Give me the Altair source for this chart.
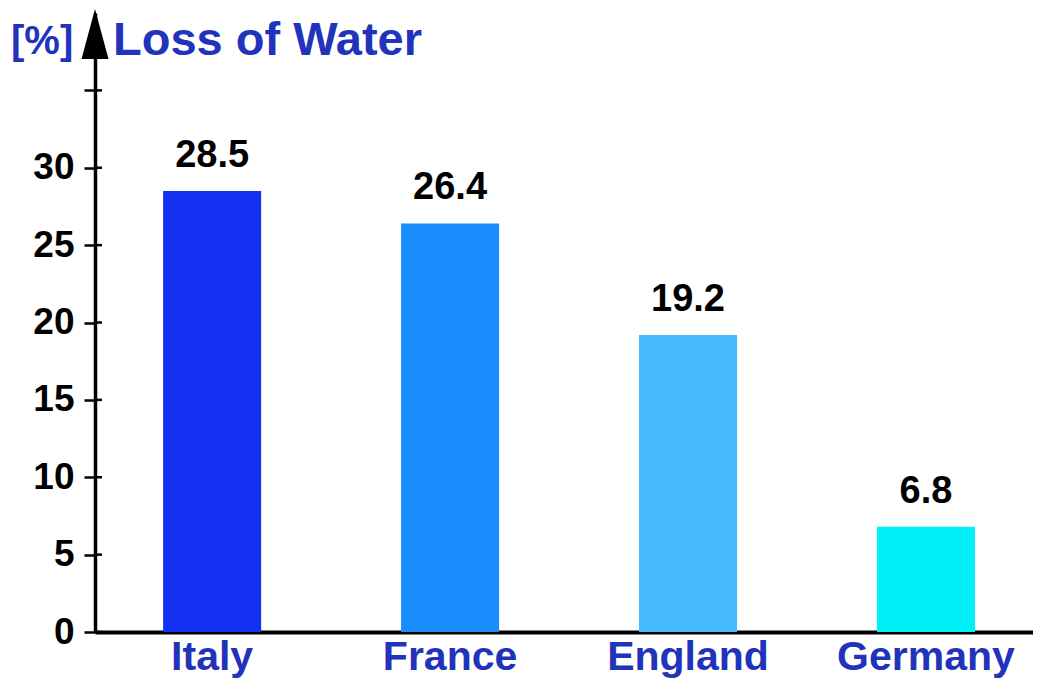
import altair as alt
import pandas as pd

countries = ["Italy", "France", "England", "Germany"]
values = [28.5, 26.4, 19.2, 6.8]
bar_colors = ["#1430f2", "#1a8cfc", "#45bbfd", "#00f0f8"]
tick_values = [0, 5, 10, 15, 20, 25, 30, 35]
title_text = "Loss of Water"
unit_text = "[%]"

FONT = "Liberation Sans"
BLUE = "#2233bb"

df = pd.DataFrame({"country": countries, "value": values})
ticks_df = pd.DataFrame({"value": tick_values})

y_scale = alt.Scale(domain=[0, 40], nice=False)

x_enc = alt.X(
    "country:N",
    sort=countries,
    scale=alt.Scale(paddingInner=0.588, paddingOuter=0.265, align=0.54),
    axis=alt.Axis(
        title=None, ticks=False, labelAngle=0, labelFont=FONT, labelFontSize=41,
        labelFontWeight="bold", labelColor=BLUE, domainColor="black",
        domainWidth=4, labelPadding=5,
    ),
)
y_enc = alt.Y(
    "value:Q",
    scale=y_scale,
    axis=alt.Axis(
        title=None, values=tick_values, labelExpr="datum.value > 30 ? '' : datum.label",
        grid=False, tickSize=11, tickWidth=2.5, tickColor="black", domainWidth=3.5,
        domainColor="black", labelFont=FONT, labelFontSize=37, labelFontWeight="bold",
        labelPadding=10, labelColor="black",
    ),
)

bars = alt.Chart(df).mark_bar().encode(
    x=x_enc,
    y=y_enc,
    color=alt.Color("country:N", scale=alt.Scale(domain=countries, range=bar_colors), legend=None),
)

labels = alt.Chart(df).mark_text(
    baseline="bottom", dy=-16, font=FONT, fontSize=38, fontWeight="bold", color="black"
).encode(
    x=alt.X("country:N", sort=countries),
    y=alt.Y("value:Q"),
    text=alt.Text("value:Q", format=".1f"),
)

inner_ticks = alt.Chart(ticks_df).mark_rule(color="black", strokeWidth=2.5).encode(
    y=alt.Y("value:Q"),
    x=alt.value(0),
    x2=alt.value(7),
)

arrow = alt.Chart(pd.DataFrame({"a": [1]})).mark_point(
    shape="M0,-1L0.54,1L-0.54,1Z", filled=True, color="black", opacity=1, size=2500
).encode(x=alt.value(0), y=alt.value(21))

title = alt.Chart(pd.DataFrame({"t": [title_text]})).mark_text(
    align="left", baseline="alphabetic", font=FONT, fontSize=47, fontWeight="bold", color=BLUE
).encode(x=alt.value(18), y=alt.value(42), text="t:N")

unit = alt.Chart(pd.DataFrame({"t": [unit_text]})).mark_text(
    align="left", baseline="alphabetic", font=FONT, fontSize=40, fontWeight="bold", color=BLUE
).encode(x=alt.value(-84), y=alt.value(41), text="t:N")

chart = alt.layer(inner_ticks, bars, labels, arrow, title, unit).properties(
    width=938,
    height=619,
    padding={"left": 87, "top": 5, "right": 0, "bottom": 52},
    autosize="none",
).configure_view(stroke=None)

chart.save("out.html", embed_options={"renderer": "svg", "actions": False})
